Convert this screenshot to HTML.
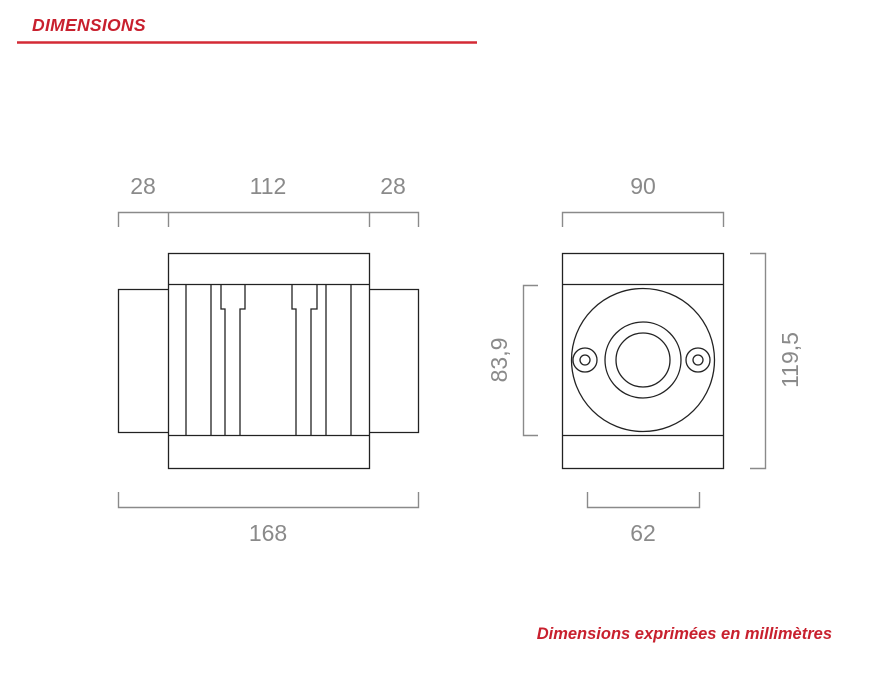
<!DOCTYPE html>
<html><head><meta charset="utf-8"><style>
body{margin:0;background:#fff;width:896px;height:676px;overflow:hidden}
</style></head><body>
<svg width="896" height="676" viewBox="0 0 896 676" xmlns="http://www.w3.org/2000/svg" style="display:block">
<text x="32" y="31" font-family="Liberation Sans, sans-serif" font-size="17.5" font-weight="bold" font-style="italic" fill="#c8202e" letter-spacing="0.3">DIMENSIONS</text>
<line x1="17" y1="42.5" x2="477" y2="42.5" stroke="#d42a35" stroke-width="2.5"/>
<g stroke="#8a8a8a" stroke-width="1.4" fill="none">
<path d="M118.5 227V212.5H418.5V227M168.5 212.5V227M369.5 212.5V227"/>
<path d="M118.5 492V507.5H418.5V492"/>
<path d="M562.5 227V212.5H723.5V227"/>
<path d="M587.5 492V507.5H699.5V492"/>
<path d="M538 285.5H523.5V435.5H538"/>
<path d="M750 253.5H765.5V468.5H750"/>
</g>
<g font-family="Liberation Sans, sans-serif" font-size="23" fill="#8a8a8a" text-anchor="middle">
<text x="143" y="194">28</text><text x="268" y="194">112</text><text x="393" y="194">28</text>
<text x="268" y="541">168</text><text x="643" y="194">90</text><text x="643" y="541">62</text>
<text transform="translate(507 360) rotate(-90)">83,9</text>
<text transform="translate(798 360) rotate(-90)">119,5</text>
</g>
<g stroke="#222" stroke-width="1.3" fill="none">
<rect x="168.5" y="253.5" width="201" height="215"/>
<path d="M168.5 284.5H369.5M168.5 435.5H369.5"/>
<path d="M168.5 289.5H118.5V432.5H168.5M369.5 289.5H418.5V432.5H369.5"/>
<path d="M186 284.5V435.5M211 284.5V435.5M326 284.5V435.5M351 284.5V435.5"/>
<path d="M221 284.5V309H225V435.5M245 284.5V309H240V435.5"/>
<path d="M292 284.5V309H296V435.5M317 284.5V309H311V435.5"/>
<rect x="562.5" y="253.5" width="161" height="215"/>
<path d="M562.5 284.5H723.5M562.5 435.5H723.5"/>
<circle cx="643" cy="360" r="71.5"/>
<circle cx="643" cy="360" r="38"/>
<circle cx="643" cy="360" r="27"/>
<circle cx="585" cy="360" r="12"/><circle cx="585" cy="360" r="5"/>
<circle cx="698" cy="360" r="12"/><circle cx="698" cy="360" r="5"/>
</g>
<text x="832" y="639" text-anchor="end" font-family="Liberation Sans, sans-serif" font-size="16.5" font-weight="bold" font-style="italic" fill="#c8202e">Dimensions exprimées en millimètres</text>
</svg>
</body></html>
